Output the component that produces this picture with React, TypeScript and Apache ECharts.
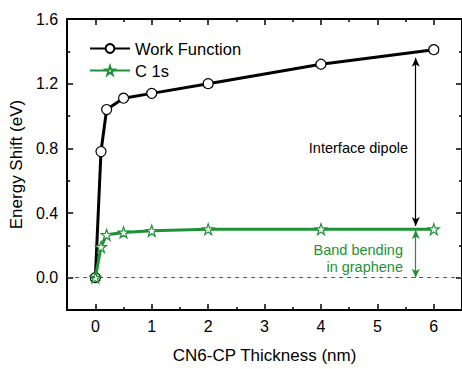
import React, { useEffect, useRef } from "react";
import * as echarts from "echarts";

const thickness = [0, 0.1, 0.2, 0.5, 1, 2, 4, 6];
const workFunction = [0, 0.78, 1.04, 1.11, 1.14, 1.2, 1.32, 1.41];
const c1s = [0, 0.19, 0.265, 0.28, 0.29, 0.3, 0.3, 0.3];
const xMajor = [0, 1, 2, 3, 4, 5, 6];
const xMinor = [0.5, 1.5, 2.5, 3.5, 4.5, 5.5];
const yMajor = [0, 0.4, 0.8, 1.2, 1.6];
const yMinor = [0.2, 0.6, 1.0, 1.4];
const arrowX = 5.68;
const dipoleRange = [1.36, 0.32];
const bendRange = [0.295, 0.0];

const GREEN = "#1e9236";
const FONT = "'Liberation Sans', Arial, sans-serif";

export default function App() {
  const ref = useRef<HTMLDivElement>(null);
  useEffect(() => {
    const chart = echarts.init(ref.current!, null, { renderer: "svg" });
    const xBase = { type: "value", min: -0.5, max: 6.5, interval: 0.5 };
    const yBase = { type: "value", min: -0.2, max: 1.6, interval: 0.2 };
    const hiddenLabel = { show: false };
    const majorTick = (vals: number[]) => ({
      show: true, inside: true, length: 6, customValues: vals,
      lineStyle: { color: "#000", width: 1.5 },
    });
    const minorTick = (vals: number[]) => ({
      show: true, inside: true, length: 3, customValues: vals,
      lineStyle: { color: "#000", width: 1.5 },
    });
    const axisLine = { show: true, onZero: false, lineStyle: { color: "#000", width: 2 } };
    const noLine = { show: false, onZero: false };
    const pts = (ys: number[]) => thickness.map((x, i) => [x, ys[i]]);

    chart.setOption({
      animation: false,
      grid: { left: 62, top: 19, width: 400, height: 297, containLabel: false },
      legend: {
        orient: "vertical",
        left: 84,
        top: 35,
        itemWidth: 40,
        itemHeight: 11,
        itemGap: 5,
        textStyle: { fontFamily: FONT, fontSize: 16.5, color: "#000" },
        data: ["Work Function", "C 1s"],
      },
      xAxis: [
        {
          ...xBase, position: "bottom",
          name: "CN6-CP Thickness (nm)", nameLocation: "middle", nameGap: 37,
          nameTextStyle: { fontFamily: FONT, fontSize: 17, color: "#000" },
          axisLine, splitLine: { show: false },
          axisTick: majorTick(xMajor),
          axisLabel: { customValues: xMajor, fontFamily: FONT, fontSize: 16, color: "#000", margin: 8 },
        },
        { ...xBase, position: "bottom", axisLine: noLine, splitLine: { show: false }, axisTick: minorTick(xMinor), axisLabel: hiddenLabel },
        { ...xBase, position: "top", axisLine, splitLine: { show: false }, axisTick: majorTick(xMajor), axisLabel: hiddenLabel },
        { ...xBase, position: "top", axisLine: noLine, splitLine: { show: false }, axisTick: minorTick(xMinor), axisLabel: hiddenLabel },
      ],
      yAxis: [
        {
          ...yBase, position: "left",
          name: "Energy Shift (eV)", nameLocation: "middle", nameGap: 36,
          nameTextStyle: { fontFamily: FONT, fontSize: 17, color: "#000" },
          axisLine, splitLine: { show: false },
          axisTick: majorTick(yMajor),
          axisLabel: {
            customValues: yMajor, fontFamily: FONT, fontSize: 16, color: "#000", margin: 9,
            formatter: (v: number) => v.toFixed(1),
          },
        },
        { ...yBase, position: "left", axisLine: noLine, splitLine: { show: false }, axisTick: minorTick(yMinor), axisLabel: hiddenLabel },
        { ...yBase, position: "right", axisLine, splitLine: { show: false }, axisTick: majorTick(yMajor), axisLabel: hiddenLabel },
        { ...yBase, position: "right", axisLine: noLine, splitLine: { show: false }, axisTick: minorTick(yMinor), axisLabel: hiddenLabel },
      ],
      series: [
        {
          name: "Work Function",
          type: "line",
          data: pts(workFunction),
          symbol: "circle",
          symbolSize: 10,
          lineStyle: { color: "#000", width: 3 },
          itemStyle: { color: "#fff", borderColor: "#000", borderWidth: 1.2 },
          z: 3,
          markLine: {
            silent: true,
            symbol: ["arrow", "arrow"],
            symbolSize: [6, 9],
            label: { show: false },
            lineStyle: { color: "#000", width: 1.2, type: "solid" },
            data: [[{ coord: [arrowX, dipoleRange[0]] }, { coord: [arrowX, dipoleRange[1]] }]],
          },
        },
        {
          name: "C 1s",
          type: "line",
          data: pts(c1s),
          symbol: "path://M50 0 L61.8 34.5 L97.6 34.5 L68.8 56 L79.4 90.5 L50 69 L20.6 90.5 L31.2 56 L2.4 34.5 L38.2 34.5 Z",
          symbolSize: 11,
          lineStyle: { color: GREEN, width: 3 },
          itemStyle: { color: "#fff", borderColor: GREEN, borderWidth: 1.2 },
          z: 4,
          markLine: {
            silent: true,
            symbol: ["arrow", "arrow"],
            symbolSize: [6, 9],
            label: { show: false },
            lineStyle: { color: GREEN, width: 1.2, type: "solid" },
            data: [
              [{ coord: [arrowX, bendRange[0]] }, { coord: [arrowX, bendRange[1]] }],
            ],
          },
        },
        {
          type: "line",
          data: [],
          markLine: {
            silent: true,
            symbol: ["none", "none"],
            label: { show: false },
            lineStyle: { color: "#555", width: 1, type: [4, 4] },
            data: [{ yAxis: 0 }],
          },
          z: 1,
        },
      ],
      graphic: [
        {
          type: "text", x: 408, y: 148,
          style: { text: "Interface dipole", fontFamily: FONT, fontSize: 14.5, fill: "#000", align: "right", verticalAlign: "middle" },
        },
        {
          type: "text", x: 403, y: 250,
          style: { text: "Band bending", fontFamily: FONT, fontSize: 14.5, fill: GREEN, align: "right", verticalAlign: "middle" },
        },
        {
          type: "text", x: 403, y: 267,
          style: { text: "in graphene", fontFamily: FONT, fontSize: 14.5, fill: GREEN, align: "right", verticalAlign: "middle" },
        },
      ],
    });
    return () => chart.dispose();
  }, []);
  return <div ref={ref} style={{ width: 462, height: 369, position: "absolute", left: 0, top: 0 }} />;
}
